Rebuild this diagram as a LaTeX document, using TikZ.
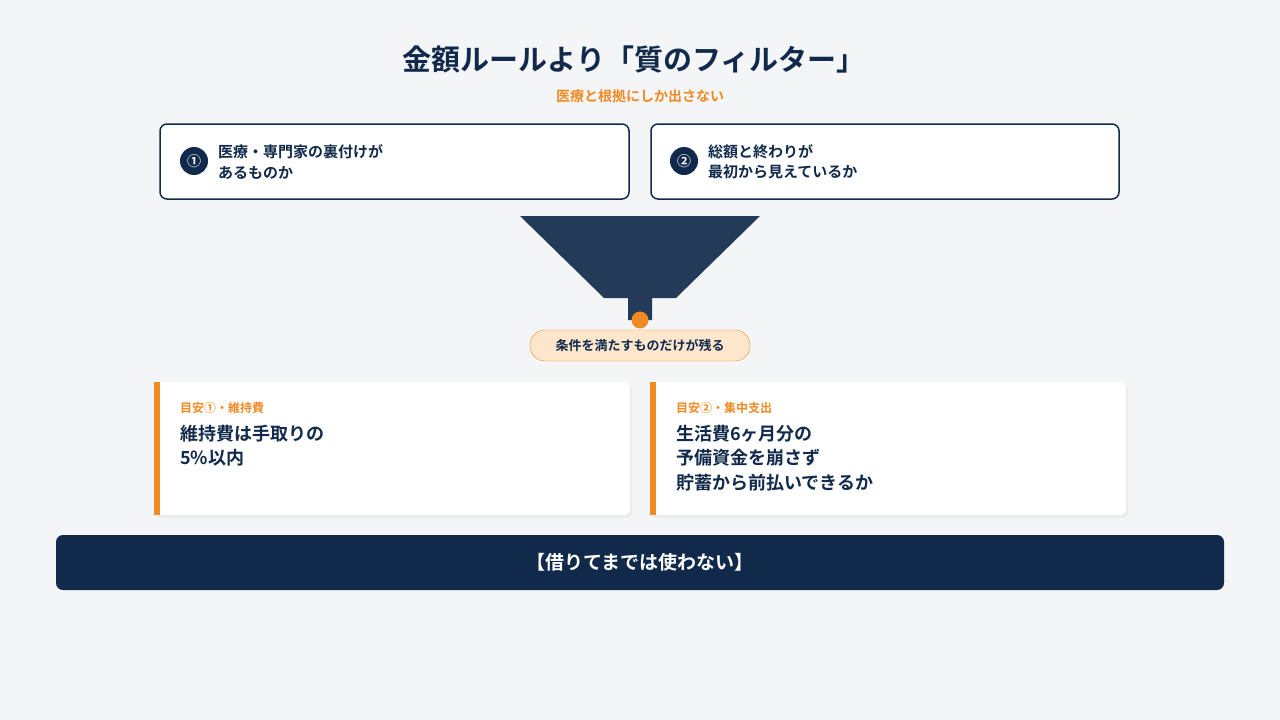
\documentclass[tikz,border=0pt]{standalone}
\usepackage{fontspec}
\setmainfont{Noto Sans CJK JP}[BoldFont={Noto Sans CJK JP Bold}]
\definecolor{bg}{HTML}{F4F5F7}
\definecolor{navy}{HTML}{112A4B}
\definecolor{fun}{HTML}{233A59}
\definecolor{org}{HTML}{F08A24}
\definecolor{pill}{HTML}{FDE6CC}
\begin{document}
\begin{tikzpicture}[x=1pt,y=-1pt,
 fs/.style={font=\fontsize{#1pt}{\dimexpr #1pt*135/100\relax}\selectfont\bfseries},
 card/.style={draw=navy,line width=1.5pt,fill=white,rounded corners=7pt},
 num/.style={circle,fill=navy,text=white,minimum size=28pt,inner sep=0pt,fs=14},
 t/.style={anchor=west,align=left,text=navy,inner sep=0pt}]
\fill[bg] (0,0) rectangle (1280,720);
\useasboundingbox (0,0) rectangle (1280,720);
\node[fs=29,text=navy] (title) at (634,59) {金額ルールより「質のフィルター」};
\node[fs=14,text=org] (sub) at (640,96) {医療と根拠にしか出さない};
\draw[card] (160,124) rectangle (629,199);
\draw[card] (651,124) rectangle (1119,199);
\node[num] (n1) at (194,161) {①};
\node[num] (n2) at (684,161) {②};
\node[t,fs=15] (c1) at (218,162) {医療・専門家の裏付けが\\あるものか};
\node[t,fs=15] (c2) at (708,162) {総額と終わりが\\最初から見えているか};
\fill[fun] (520,216) -- (760,216) -- (676,298) -- (652,298) -- (652,320) -- (628,320) -- (628,298) -- (604,298) -- cycle;
\fill[org] (640,320) circle (8.5);
\node[draw=org,fill=pill,rounded corners=15pt,minimum width=220pt,minimum height=31pt,fs=13,text=navy] (p) at (640,345.5) {条件を満たすものだけが残る};
\fill[black,opacity=0.04,rounded corners=6pt] (155,384) rectangle (632,518);
\fill[black,opacity=0.04,rounded corners=6pt] (651,384) rectangle (1128,518);
\fill[white,rounded corners=6pt] (154,382) rectangle (630,515);
\fill[white,rounded corners=6pt] (650,382) rectangle (1126,515);
\fill[org] (154,382) rectangle (160,515);
\fill[org] (650,382) rectangle (656,515);
\node[t,fs=12,text=org] (l1) at (180,408) {目安①・維持費};
\node[t,fs=12,text=org] (l2) at (676,408) {目安②・集中支出};
\node[t,fs=18,anchor=north west] (m1) at (180,425) {維持費は手取りの\\5\%以内};
\node[t,fs=18,anchor=north west] (m2) at (676,425) {生活費6ヶ月分の\\予備資金を崩さず\\貯蓄から前払いできるか};
\fill[navy,rounded corners=7pt] (56,535) rectangle (1224,590);
\node[fs=19,text=white] (b) at (640,562) {【借りてまでは使わない】};
\end{tikzpicture}
\end{document}
